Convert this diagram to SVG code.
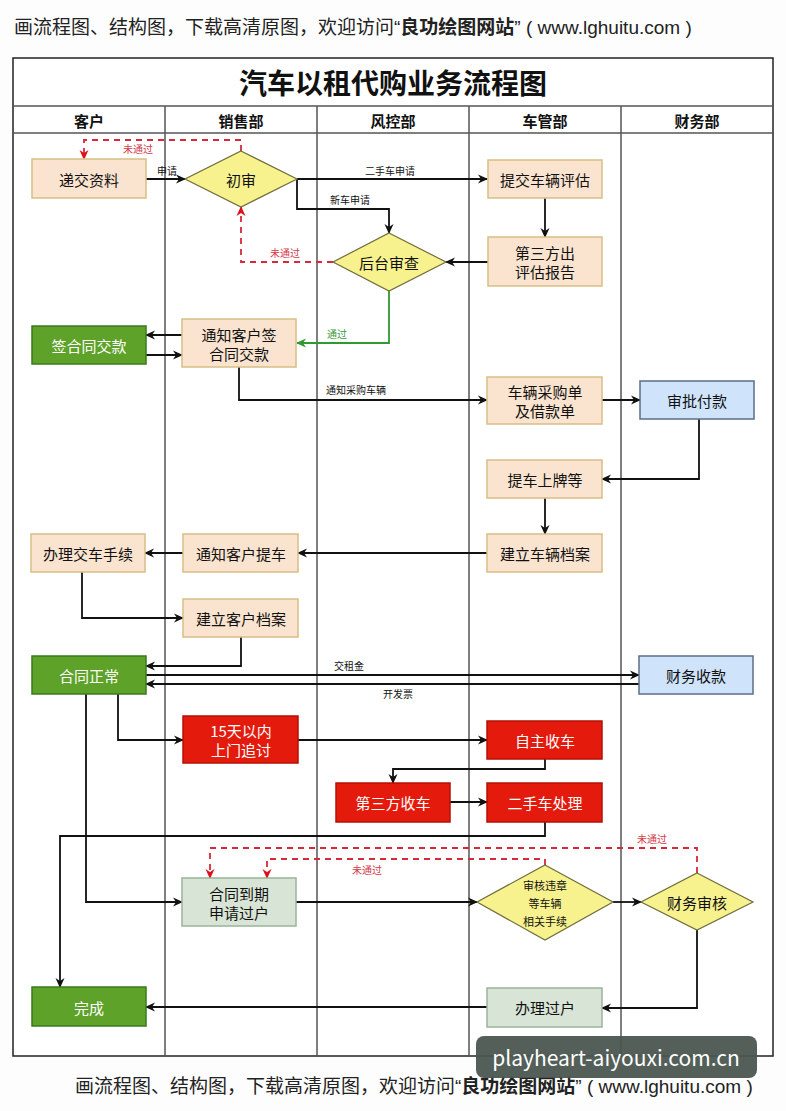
<svg xmlns="http://www.w3.org/2000/svg" width="786" height="1111" viewBox="0 0 786 1111">
<style>
text{font-family:"Noto Sans CJK SC","Liberation Sans",sans-serif;}
.t{font-size:15px;fill:#111;text-anchor:middle;dominant-baseline:central;}
.w{font-size:15px;fill:#fff;text-anchor:middle;dominant-baseline:central;}
.s{font-size:11px;fill:#111;text-anchor:middle;dominant-baseline:central;}
.h{font-size:15px;font-weight:bold;fill:#111;text-anchor:middle;dominant-baseline:central;}
.lb{font-size:10px;fill:#111;text-anchor:middle;dominant-baseline:central;}
.lr{font-size:10px;fill:#d23a4a;text-anchor:middle;dominant-baseline:central;}
.lg{font-size:10px;fill:#3a9a3a;text-anchor:middle;dominant-baseline:central;}
.top{font-size:19px;fill:#222;}
.lat{font-family:"Liberation Sans",sans-serif;font-weight:normal;}
.peach{fill:#fae4cf;stroke:#d9be85;stroke-width:1.5;}
.green{fill:#5ea22a;stroke:#3c7a1a;stroke-width:1.5;}
.red{fill:#e31a0c;stroke:#b51005;stroke-width:1.5;}
.blue{fill:#cfe4fb;stroke:#5d6d86;stroke-width:1.5;}
.gg{fill:#d8e5d6;stroke:#9bb39a;stroke-width:1.5;}
.dia{fill:#f7f28e;stroke:#6f6d3a;stroke-width:1.2;}
.lane{stroke:#555;stroke-width:1.5;fill:none;}
.c{fill:none;stroke:#111;stroke-width:1.8;marker-end:url(#ar);}
.cr{fill:none;stroke:#d8283a;stroke-width:1.8;stroke-dasharray:6,5;marker-end:url(#arr);}
.cg{fill:none;stroke:#2f9a2f;stroke-width:1.8;marker-end:url(#arg);}
</style>
<defs>
<marker id="ar" viewBox="0 0 10 10" refX="9" refY="5" markerWidth="11" markerHeight="10" markerUnits="userSpaceOnUse" orient="auto"><path d="M0,0.5 L10,5 L0,9.5 L3,5 z" fill="#111"/></marker>
<marker id="arr" viewBox="0 0 10 10" refX="9" refY="5" markerWidth="11" markerHeight="10" markerUnits="userSpaceOnUse" orient="auto"><path d="M0,0.5 L10,5 L0,9.5 L3,5 z" fill="#e0101a"/></marker>
<marker id="arg" viewBox="0 0 10 10" refX="9" refY="5" markerWidth="11" markerHeight="10" markerUnits="userSpaceOnUse" orient="auto"><path d="M0,0.5 L10,5 L0,9.5 L3,5 z" fill="#2f9a2f"/></marker>
</defs>
<rect width="786" height="1111" fill="#fdfdfd"/>
<text x="14" y="34" class="top">画流程图、结构图，下载高清原图，欢迎访问<tspan class="lat">“</tspan><tspan font-weight="bold">良功绘图网站</tspan><tspan class="lat">” ( www.lghuitu.com )</tspan></text>

<g id="frame">
<rect x="13" y="58" width="760" height="998" fill="#fff" stroke="#222" stroke-width="1.5"/>
<line x1="13" y1="106" x2="773" y2="106" class="lane"/>
<line x1="13" y1="133" x2="773" y2="133" class="lane"/>
<line x1="165" y1="106" x2="165" y2="1056" class="lane"/>
<line x1="317" y1="106" x2="317" y2="1056" class="lane"/>
<line x1="469" y1="106" x2="469" y2="1056" class="lane"/>
<line x1="621" y1="106" x2="621" y2="1056" class="lane"/>
<text x="393" y="82" font-size="28" font-weight="bold" fill="#111" text-anchor="middle" dominant-baseline="central">汽车以租代购业务流程图</text>
<text x="89" y="120" class="h">客户</text>
<text x="241" y="120" class="h">销售部</text>
<text x="393" y="120" class="h">风控部</text>
<text x="545" y="120" class="h">车管部</text>
<text x="697" y="120" class="h">财务部</text>
</g>

<g id="connectors">
<path class="c" d="M146,179 H185"/>
<path class="c" d="M297,179 H487"/>
<path class="c" d="M297,179 V209 H389 V233"/>
<path class="c" d="M545,198 V237"/>
<path class="c" d="M488,262 H446"/>
<path class="cr" d="M333,262 H241 V207"/>
<path class="cr" d="M241,151 V140 H84 V159"/>
<path class="cg" d="M389,291 V343 H297"/>
<path class="c" d="M182,335 H146"/>
<path class="c" d="M146,355 H182"/>
<path class="c" d="M239,367 V400 H487"/>
<path class="c" d="M602,400 H640"/>
<path class="c" d="M699,419 V479 H602"/>
<path class="c" d="M545,498 V534"/>
<path class="c" d="M487,553 H298"/>
<path class="c" d="M183,553 H145"/>
<path class="c" d="M82,572 V618 H183"/>
<path class="c" d="M241,637 V666 H146"/>
<path class="c" d="M146,675 H639"/>
<path class="c" d="M639,684 H146"/>
<path class="c" d="M118,694 V740 H183"/>
<path class="c" d="M298,740 H487"/>
<path class="c" d="M545,759 V769 H393 V783"/>
<path class="c" d="M450,802 H487"/>
<path class="c" d="M545,822 V836 H60 V987"/>
<path class="c" d="M86,694 V902 H182"/>
<path class="c" d="M296,902 H477"/>
<path class="c" d="M613,902 H641"/>
<path class="c" d="M697,930 V1008 H602"/>
<path class="c" d="M487,1007 H146"/>
<path class="cr" d="M697,873 V848 H210 V878"/>
<path class="cr" d="M545,865 V859 H267 V878"/>
<text x="138" y="148" class="lr">未通过</text>
<text x="167" y="170" class="lb">申请</text>
<text x="390" y="170" class="lb">二手车申请</text>
<text x="350" y="199" class="lb">新车申请</text>
<text x="285" y="252" class="lr">未通过</text>
<text x="337" y="333" class="lg">通过</text>
<text x="356" y="389" class="lb">通知采购车辆</text>
<text x="349" y="665" class="lb">交租金</text>
<text x="398" y="693" class="lb">开发票</text>
<text x="367" y="869" class="lr">未通过</text>
<text x="652" y="838" class="lr">未通过</text>
</g>

<g id="n_dijiao"><rect class="peach" x="32" y="159" width="114" height="39"/><text class="t" x="89" y="179">递交资料</text></g>
<g id="n_chushen"><polygon class="dia" points="241,151 297,179 241,207 185,179"/><text class="t" x="241" y="179">初审</text></g>
<g id="n_tijiao"><rect class="peach" x="488" y="160" width="114" height="38"/><text class="t" x="545" y="179">提交车辆评估</text></g>
<g id="n_houtai"><polygon class="dia" points="389,233 446,262 389,291 333,262"/><text class="t" x="389" y="262">后台审查</text></g>
<g id="n_disanfang"><rect class="peach" x="488" y="237" width="114" height="49"/><text class="t" x="545" y="252">第三方出</text><text class="t" x="545" y="271">评估报告</text></g>
<g id="n_qianhetong"><rect class="green" x="32" y="326" width="114" height="38"/><text class="w" x="89" y="345">签合同交款</text></g>
<g id="n_tongzhiqian"><rect class="peach" x="182" y="319" width="114" height="48"/><text class="t" x="239" y="334">通知客户签</text><text class="t" x="239" y="353">合同交款</text></g>
<g id="n_caigou"><rect class="peach" x="487" y="377" width="115" height="47"/><text class="t" x="545" y="391">车辆采购单</text><text class="t" x="545" y="410">及借款单</text></g>
<g id="n_shenpi"><rect class="blue" x="640" y="381" width="114" height="38"/><text class="t" x="697" y="400">审批付款</text></g>
<g id="n_tiche"><rect class="peach" x="487" y="460" width="115" height="38"/><text class="t" x="545" y="479">提车上牌等</text></g>
<g id="n_cheliangdangan"><rect class="peach" x="487" y="534" width="115" height="38"/><text class="t" x="545" y="553">建立车辆档案</text></g>
<g id="n_tongzhitiche"><rect class="peach" x="183" y="534" width="115" height="38"/><text class="t" x="241" y="553">通知客户提车</text></g>
<g id="n_jiaoche"><rect class="peach" x="31" y="534" width="114" height="38"/><text class="t" x="88" y="553">办理交车手续</text></g>
<g id="n_kehudangan"><rect class="peach" x="183" y="599" width="115" height="38"/><text class="t" x="241" y="618">建立客户档案</text></g>
<g id="n_zhengchang"><rect class="green" x="32" y="656" width="114" height="38"/><text class="w" x="89" y="675">合同正常</text></g>
<g id="n_shoukuan"><rect class="blue" x="639" y="656" width="114" height="38"/><text class="t" x="696" y="675">财务收款</text></g>
<g id="n_15tian"><rect class="red" x="183" y="716" width="115" height="47"/><text class="w" x="241" y="730">15天以内</text><text class="w" x="241" y="749">上门追讨</text></g>
<g id="n_zizhu"><rect class="red" x="487" y="721" width="115" height="38"/><text class="w" x="545" y="740">自主收车</text></g>
<g id="n_disanshouche"><rect class="red" x="336" y="783" width="114" height="39"/><text class="w" x="393" y="802">第三方收车</text></g>
<g id="n_ershou"><rect class="red" x="487" y="783" width="115" height="39"/><text class="w" x="545" y="802">二手车处理</text></g>
<g id="n_daoqi"><rect class="gg" x="182" y="878" width="114" height="48"/><text class="t" x="239" y="893">合同到期</text><text class="t" x="239" y="912">申请过户</text></g>
<g id="n_weizhang"><polygon class="dia" points="545,865 613,902 545,940 477,902"/><text class="s" x="545" y="885">审核违章</text><text class="s" x="545" y="903">等车辆</text><text class="s" x="545" y="921">相关手续</text></g>
<g id="n_caiwushenhe"><polygon class="dia" points="697,873 753,902 697,930 641,902"/><text class="t" x="697" y="902">财务审核</text></g>
<g id="n_guohu"><rect class="gg" x="487" y="988" width="115" height="39"/><text class="t" x="545" y="1007">办理过户</text></g>
<g id="n_wancheng"><rect class="green" x="32" y="987" width="114" height="39"/><text class="w" x="89" y="1007">完成</text></g>

<text x="75" y="1093" class="top">画流程图、结构图，下载高清原图，欢迎访问<tspan class="lat">“</tspan><tspan font-weight="bold">良功绘图网站</tspan><tspan class="lat">” ( www.lghuitu.com )</tspan></text>
<g id="watermark"><rect x="476" y="1036" width="281" height="42" rx="8" fill="#4b5651" fill-opacity="0.95"/><text x="616" y="1057" font-family="Liberation Sans, sans-serif" font-size="21" fill="#fff" text-anchor="middle" dominant-baseline="central">playheart-aiyouxi.com.cn</text></g>
</svg>
